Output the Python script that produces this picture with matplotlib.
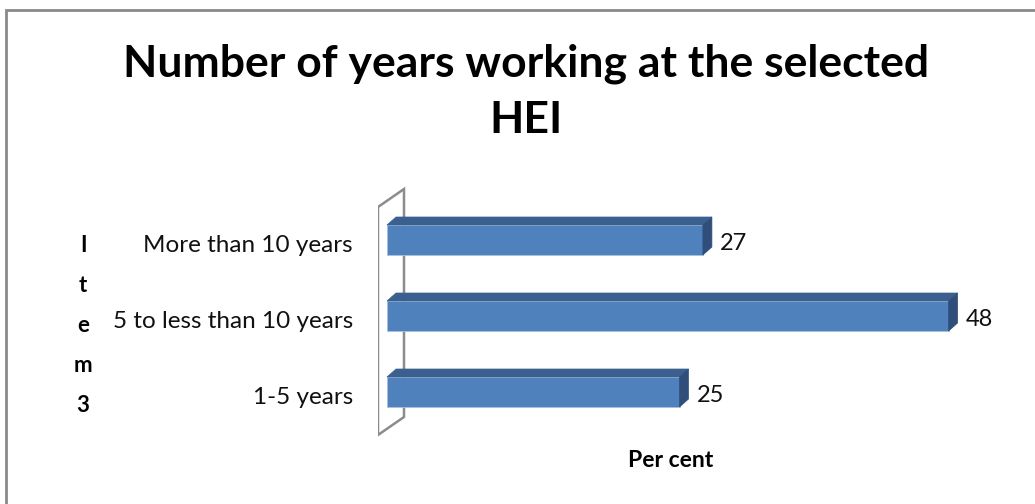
import matplotlib
matplotlib.use("Agg")
import matplotlib.pyplot as plt
from matplotlib.patches import Polygon, Rectangle

# Survey results: years working at the selected HEI (per cent)
categories = ["1-5 years", "5 to less than 10 years", "More than 10 years"]
values = [25, 48, 27]
title_lines = ["Number of years working at the selected", "HEI"]
xlabel = "Per cent"
ylabel_letters = ["I", "t", "e", "m", "3"]

W, H = 1035, 504
fig = plt.figure(figsize=(W / 100, H / 100), dpi=100)
plt.rcParams["font.family"] = ["Lato", "DejaVu Sans"]

# outer chart frame (top and left edges visible)
fig.add_artist(Rectangle((6 / W, -0.1), 1.2, 1 - 10 / H + 0.1, transform=fig.transFigure,
                         fill=False, edgecolor="#8a8a8a", linewidth=2.0))

# plot area in pixel terms
px_per_unit = 11.7          # horizontal pixels per percent
row_px = 76.0               # vertical pixels between category rows
x0_px = 387.0               # pixel position of zero
left_px, right_px = 378.0, 1000.0
top_px, bottom_px = 186.0, 437.0
row_top_center = 240.0      # pixel y of the top category centre

ax = fig.add_axes([left_px / W, (H - bottom_px) / H,
                   (right_px - left_px) / W, (bottom_px - top_px) / H])
ax.set_xlim((left_px - x0_px) / px_per_unit, (right_px - x0_px) / px_per_unit)
n = len(categories)
ax.set_ylim((n - 1) - (bottom_px - row_top_center) / row_px,
            (n - 1) + (row_top_center - top_px) / row_px)
ax.axis("off")

def px_dx(p):
    return p / px_per_unit

def px_dy(p):
    return p / row_px

# back wall of the 3-D plot area
wall_front_x = px_dx(378 - x0_px)
wall_back_x = px_dx(404 - x0_px)
wall_depth_y = px_dy(18)
wall_bottom = (n - 1) - (435 - row_top_center) / row_px
wall_top = (n - 1) + (row_top_center - 207) / row_px
wall = Polygon([(wall_front_x, wall_bottom), (wall_front_x, wall_top),
                (wall_back_x, wall_top + wall_depth_y), (wall_back_x, wall_bottom + wall_depth_y)],
               closed=True, facecolor="white", edgecolor="#8c8c8c", linewidth=1.8, zorder=1)
ax.add_patch(wall)

# 3-D bars
bar_h = px_dy(30)
ddx, ddy = px_dx(9), px_dy(8)
front_col, top_col, side_col = "#4f81bd", "#3b5f8f", "#2f4f7a"
for i, v in enumerate(values):
    yb = i - bar_h / 2
    yt = i + bar_h / 2
    ax.add_patch(Rectangle((0, yb), v, bar_h, facecolor=front_col,
                           edgecolor="#a9c1e0", linewidth=0.6, zorder=3))
    ax.add_patch(Polygon([(0, yt), (v, yt), (v + ddx, yt + ddy), (ddx, yt + ddy)],
                         closed=True, facecolor=top_col, edgecolor=top_col,
                         linewidth=0.5, zorder=3))
    ax.add_patch(Polygon([(v, yb), (v, yt), (v + ddx, yt + ddy), (v + ddx, yb + ddy)],
                         closed=True, facecolor=side_col, edgecolor=side_col,
                         linewidth=0.5, zorder=3))
    ax.text(v + px_dx(17), i - px_dy(4), str(v), ha="left", va="center",
            fontsize=17, color="#111111", zorder=4)

# category labels
for i, c in enumerate(categories):
    ax.text(px_dx(353 - x0_px), i - px_dy(6), c, ha="right", va="center",
            fontsize=17.5, color="#111111")

# title
fig.text(526 / W, 1 - 77 / H, title_lines[0], ha="center", va="baseline",
         fontsize=32, fontweight="bold", color="black")
fig.text(526 / W, 1 - 133 / H, title_lines[1], ha="center", va="baseline",
         fontsize=32, fontweight="bold", color="black")

# stacked vertical axis title
for k, letter in enumerate(ylabel_letters):
    fig.text(83 / W, 1 - (245 + k * 40) / H, letter, ha="center", va="center",
             fontsize=16, fontweight="bold", color="black")

# horizontal axis title
fig.text(671 / W, 1 - 467 / H, xlabel, ha="center", va="baseline",
         fontsize=16.5, fontweight="bold", color="black")

fig.savefig("out.png", dpi=100)
